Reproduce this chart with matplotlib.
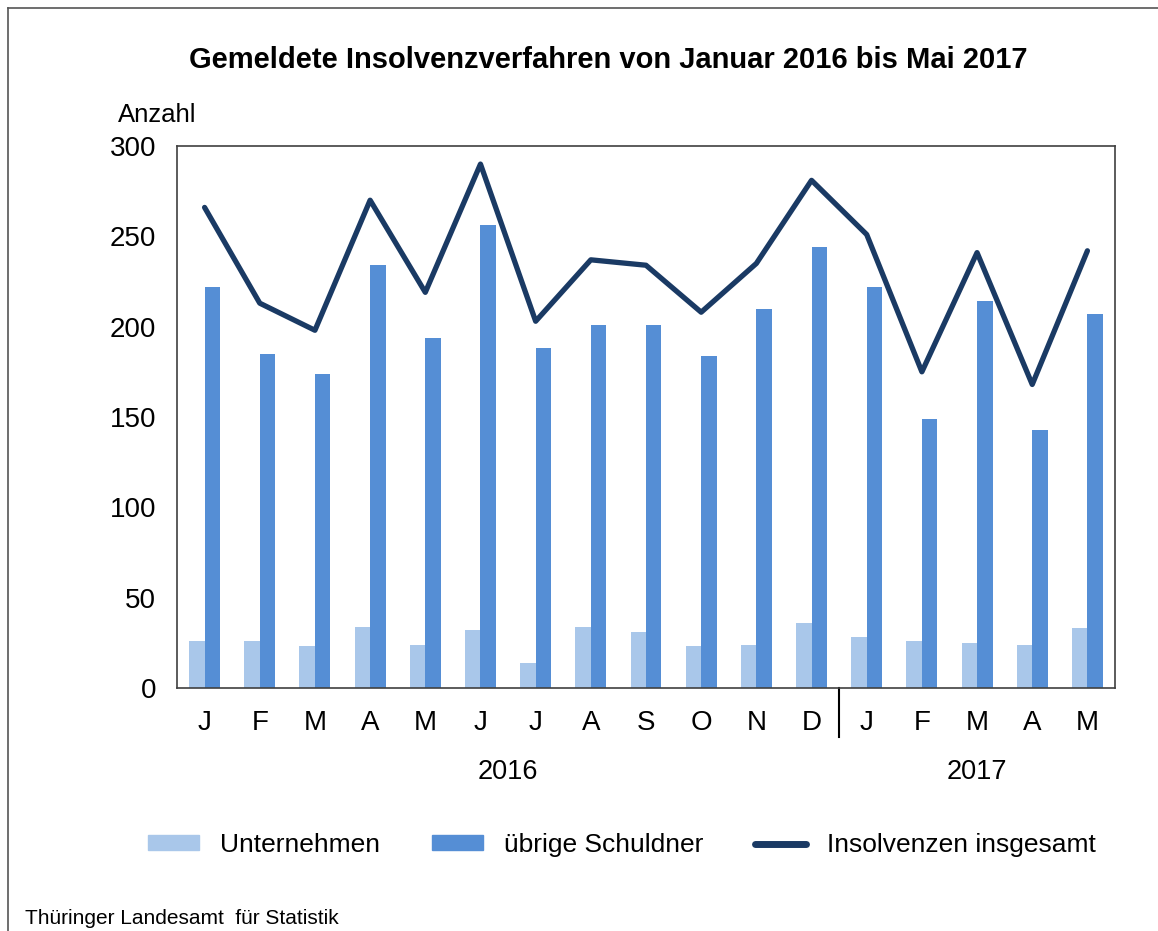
import numpy as np
import matplotlib.pyplot as plt
from matplotlib.lines import Line2D

plt.rcParams['font.family'] = ['Liberation Sans', 'DejaVu Sans']

months = ['J', 'F', 'M', 'A', 'M', 'J', 'J', 'A', 'S', 'O', 'N', 'D',
          'J', 'F', 'M', 'A', 'M']
unternehmen = [26, 26, 23, 34, 24, 32, 14, 34, 31, 23, 24, 36,
               28, 26, 25, 24, 33]
uebrige = [222, 185, 174, 234, 194, 256, 188, 201, 201, 184, 210, 244,
           222, 149, 214, 143, 207]
insgesamt = [266, 213, 198, 270, 219, 290, 203, 237, 234, 208, 235, 281,
             251, 175, 241, 168, 242]

c_light = '#A9C7EA'
c_dark = '#558ED5'
c_line = '#1A3A64'

fig = plt.figure(figsize=(11.58, 9.31), dpi=100)
ax = fig.add_axes([177/1158, 1-688/931, (1115-177)/1158, (688-146)/931])

x = np.arange(len(months))
w = 0.28
ax.bar(x - w/2, unternehmen, w, color=c_light, label='Unternehmen')
ax.bar(x + w/2, uebrige, w, color=c_dark, label='übrige Schuldner')
ax.plot(x, insgesamt, color=c_line, lw=3.8, solid_joinstyle='round',
        solid_capstyle='round', label='Insolvenzen insgesamt')

ax.set_xlim(-0.5, len(months) - 0.5)
ax.set_ylim(0, 300)
ax.set_yticks(range(0, 301, 50))
ax.set_xticks(x)
ax.set_xticklabels(months)
ax.tick_params(length=0, labelsize=20)
ax.tick_params(axis='x', pad=16)
ax.tick_params(axis='y', pad=15)
for s in ax.spines.values():
    s.set_color('#404040')
    s.set_linewidth(1.2)

# separator between years
ax.plot([11.5, 11.5], [0, -0.09], transform=ax.get_xaxis_transform(),
        color='black', lw=1.5, clip_on=False)
ax.text(5.5, -0.155, '2016', transform=ax.get_xaxis_transform(),
        ha='center', va='center', fontsize=19.5)
ax.text(14, -0.155, '2017', transform=ax.get_xaxis_transform(),
        ha='center', va='center', fontsize=19.5)

fig.text(608/1158, 1-60/931, 'Gemeldete Insolvenzverfahren von Januar 2016 bis Mai 2017',
         ha='center', va='center', fontsize=21, fontweight='bold')
fig.text(118/1158, 1-115/931, 'Anzahl', ha='left', va='center', fontsize=18.5)
fig.text(25/1158, 1-918/931, 'Thüringer Landesamt  für Statistik',
         ha='left', va='center', fontsize=15)

handles = [plt.Rectangle((0, 0), 1, 1, color=c_light),
           plt.Rectangle((0, 0), 1, 1, color=c_dark),
           Line2D([0], [0], color=c_line, lw=5, solid_capstyle='round')]
fig.legend(handles, ['Unternehmen', 'übrige Schuldner', 'Insolvenzen insgesamt'],
           loc='center', bbox_to_anchor=(622/1158, 1-845/931), ncol=3,
           frameon=False, fontsize=19, handlelength=1.93, handleheight=0.5,
           columnspacing=1.97, handletextpad=0.8)

# outer border (top and left)
fig.add_artist(Line2D([8/1158, 8/1158], [0, 1-8/931], color='#555555', lw=1.2))
fig.add_artist(Line2D([8/1158, 1], [1-8/931, 1-8/931], color='#555555', lw=1.2))

fig.savefig('out.png', dpi=100)
